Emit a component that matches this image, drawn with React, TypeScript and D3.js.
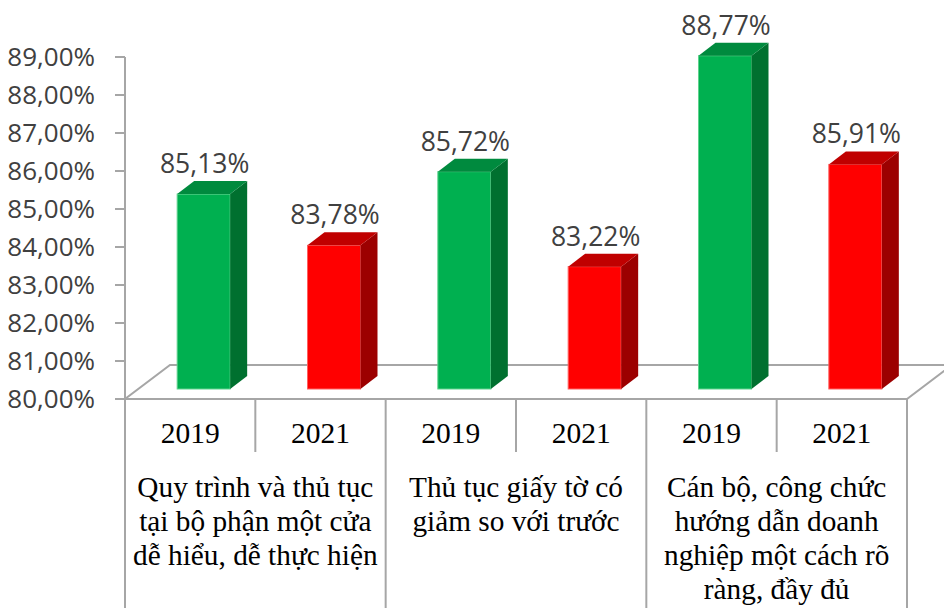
import React from "react";
import * as d3 from "d3";

const groups = [
  ["Quy trình và thủ tục", "tại bộ phận một cửa", "dễ hiểu, dễ thực hiện"],
  ["Thủ tục giấy  tờ có", "giảm so với trước"],
  ["Cán bộ, công chức", "hướng dẫn doanh", "nghiệp một cách rõ", "ràng, đầy đủ"],
];
const years = ["2019", "2021"];
const values2019 = [85.13, 85.72, 88.77];
const values2021 = [83.78, 83.22, 85.91];
const yTicks = [80, 81, 82, 83, 84, 85, 86, 87, 88, 89];

const W = 944;
const H = 608;
const left = 125;
const right = 907;
const yBase = 399;
const yTop = 57;
const floorD = { x: 45, y: -34 };
const barD = { x: 17, y: -13 };
const barO = { x: 14, y: -10 };
const barW = 53;
const grey = "#a6a6a6";

const fmt = (v: number) => v.toFixed(2).replace(".", ",") + "%";

export default function App() {
  const bars = groups.flatMap((_, gi) =>
    years.map((yr, yi) => ({
      key: `${gi}-${yi}`,
      year: yr,
      gi,
      yi,
      value: yi === 0 ? values2019[gi] : values2021[gi],
    }))
  );
  const x = d3
    .scaleBand<number>()
    .domain(d3.range(bars.length))
    .range([left, right])
    .padding(0);
  const y = d3.scaleLinear().domain([80, 89]).range([yBase, yTop]);
  const bw = x.bandwidth();

  const colors = [
    { front: "#00b050", top: "#008a3e", side: "#00702f", edge: "#5fd38d" },
    { front: "#ff0000", top: "#c00000", side: "#9c0000", edge: "#ff6060" },
  ];

  const floorPath = `M${left},${yBase} L${right},${yBase} L${right + floorD.x},${yBase + floorD.y} L${left + floorD.x},${yBase + floorD.y} Z`;
  const serif = "'Liberation Serif', 'Times New Roman', serif";
  const sans = "'Open Sans', sans-serif";

  return (
    <svg
      width={W}
      height={H}
      style={{ position: "absolute", left: 0, top: 0, background: "#fff" }}
    >
      <path d={floorPath} fill="#fff" stroke={grey} strokeWidth={2} />

      {bars.map((b, i) => {
        const c = colors[b.yi];
        const x0 = (x(i) as number) + barO.x + (bw - barO.x - barW) / 2 + barO.x / 2 - 0.5;
        const yt = y(b.value) + barO.y;
        const yb = y(80) + barO.y;
        const x1 = x0 + barW;
        const top = `M${x0},${yt} L${x0 + barD.x},${yt + barD.y} L${x1 + barD.x},${yt + barD.y} L${x1},${yt} Z`;
        const side = `M${x1},${yt} L${x1 + barD.x},${yt + barD.y} L${x1 + barD.x},${yb + barD.y} L${x1},${yb} Z`;
        return (
          <g key={b.key}>
            <rect x={x0} y={yt} width={barW} height={yb - yt} fill={c.front} stroke={c.edge} strokeWidth={1} />
            <path d={side} fill={c.side} />
            <path d={top} fill={c.top} />
            <text
              x={x0 + barW / 2 + 1}
              y={yt - 21}
              textAnchor="middle"
              fontFamily={sans}
              fontSize={26.5}
              fill="#404040"
            >
              {fmt(b.value)}
            </text>
          </g>
        );
      })}

      <line x1={left} x2={left} y1={y(89)} y2={yBase} stroke={grey} strokeWidth={2} />
      {yTicks.map((t) => (
        <g key={t}>
          <line x1={left - 10} x2={left} y1={y(t)} y2={y(t)} stroke={grey} strokeWidth={2} />
          <text
            x={95}
            y={y(t)}
            dy="0.36em"
            textAnchor="end"
            fontFamily={sans}
            fontSize={26}
            fill="#404040"
          >
            {fmt(t)}
          </text>
        </g>
      ))}

      <line x1={left} x2={right} y1={yBase} y2={yBase} stroke={grey} strokeWidth={2} />
      {d3.range(bars.length + 1).map((i) => {
        const xx = i < bars.length ? (x(i) as number) : right;
        const long = i % 2 === 0;
        return (
          <line
            key={i}
            x1={xx}
            x2={xx}
            y1={yBase}
            y2={long ? H : 452}
            stroke={grey}
            strokeWidth={2}
          />
        );
      })}
      {bars.map((b, i) => (
        <text
          key={b.key}
          x={(x(i) as number) + bw / 2}
          y={443}
          textAnchor="middle"
          fontFamily={serif}
          fontSize={29.5}
          fill="#000"
        >
          {b.year}
        </text>
      ))}
      {groups.map((lines, gi) => {
        const cx = (x(gi * 2) as number) + bw;
        return (
          <text
            key={gi}
            textAnchor="middle"
            fontFamily={serif}
            fontSize={29.3}
            fill="#000"
          >
            {lines.map((l, li) => (
              <tspan key={li} x={cx} y={497 + li * 34}>
                {l}
              </tspan>
            ))}
          </text>
        );
      })}
    </svg>
  );
}
